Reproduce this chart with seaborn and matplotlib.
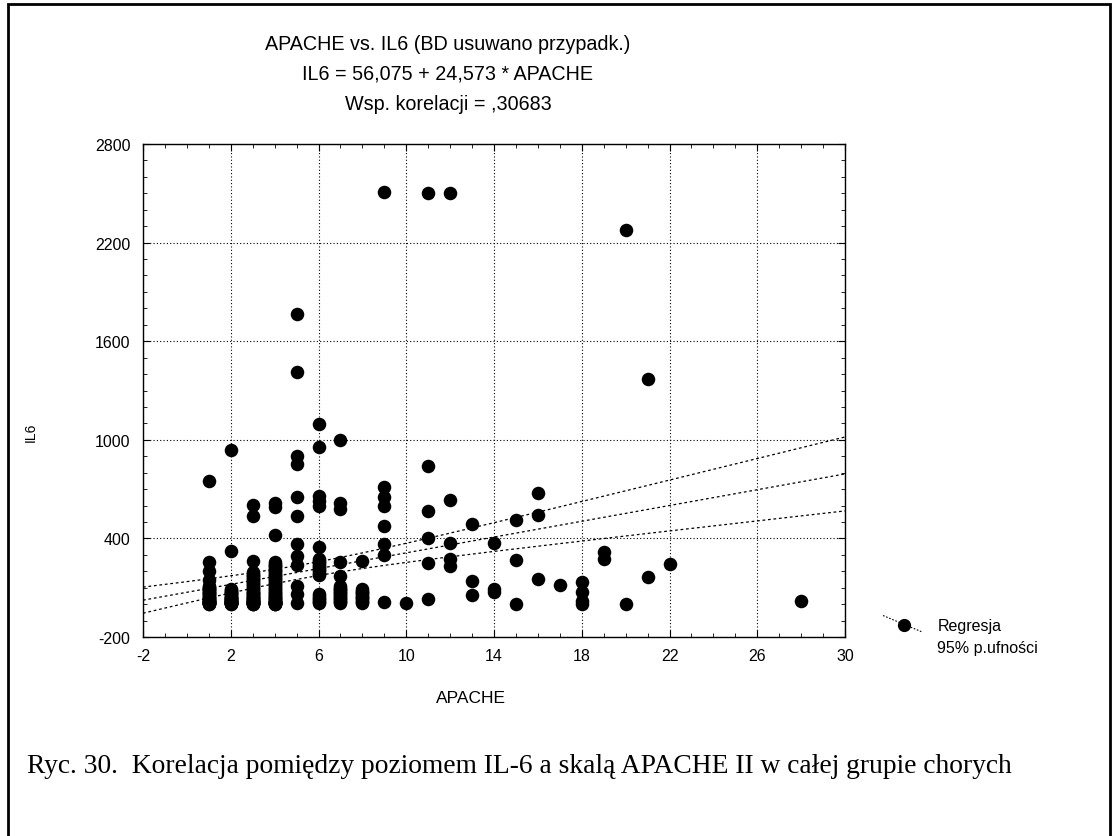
import numpy as np
import matplotlib
matplotlib.use("Agg")
import matplotlib.pyplot as plt
import seaborn as sns
from matplotlib.lines import Line2D
from matplotlib.patches import Rectangle
from matplotlib.legend_handler import HandlerBase

# ---------------- data (dense columns hold many overlapping points) ----------------
apache_levels = [1, 2, 3, 4, 5, 6, 7, 8, 9, 10, 11, 12, 13, 14, 15, 16, 17, 18, 19, 20, 21, 22, 28]
il6_at_1 = [751, 258, 200, 145, 110, 105, 100, 95, 90, 85, 80, 75, 70, 65, 60, 55, 50, 45, 40,
            35, 30, 28, 25, 22, 20, 18, 15, 12, 10, 8, 7, 6, 5, 4, 3, 2]
il6_at_2 = [938, 325, 90, 85, 80, 75, 70, 65, 60, 55, 50, 45, 40, 38, 35, 32, 30, 28, 25, 22,
            20, 18, 15, 12, 10, 9, 8, 7, 6, 5, 4, 3, 2]
il6_at_3 = [605, 538, 265, 195, 185, 180, 170, 165, 155, 150, 140, 135, 125, 120, 110, 105, 95,
            90, 80, 75, 70, 65, 60, 55, 50, 45, 42, 40, 35, 30, 28, 25, 22, 20, 18, 15, 12, 10,
            8, 6, 5, 4, 3, 2, 1]
il6_at_4 = [613, 592, 420, 255, 245, 240, 230, 225, 215, 210, 200, 195, 185, 180, 170, 165, 155,
            150, 140, 135, 125, 120, 110, 105, 95, 90, 80, 75, 65, 60, 55, 50, 45, 40, 35, 30,
            25, 20, 18, 15, 12, 10, 8, 7, 6, 5, 4, 3, 2, 1]
il6_at_5 = [1766, 1411, 903, 852, 650, 538, 365, 290, 240, 110, 60, 5]
il6_at_6 = [1096, 954, 655, 625, 600, 350, 275, 265, 255, 245, 235, 225, 215, 205, 195, 185,
            175, 60, 50, 40, 30, 20, 10, 5]
il6_at_7 = [999, 613, 579, 254, 172, 110, 100, 95, 85, 80, 70, 65, 55, 50, 40, 35, 25, 20, 10, 5]
il6_at_8 = [264, 90, 80, 75, 65, 60, 50, 45, 35, 30, 20, 15, 5]
il6_at_9 = [2507, 714, 650, 599, 477, 365, 298, 14]
il6_at_10 = [4]
il6_at_11 = [2500, 838, 568, 404, 248, 32]
il6_at_12 = [2500, 633, 370, 272, 232]
il6_at_13 = [487, 142, 54]
il6_at_14 = [369, 91, 72]
il6_at_15 = [510, 268, 3]
il6_at_16 = [675, 542, 150]
il6_at_17 = [117]
il6_at_18 = [132, 72, 20, 0]
il6_at_19 = [318, 274]
il6_at_20 = [2277, 0]
il6_at_21 = [1372, 168]
il6_at_22 = [245]
il6_at_28 = [19]

il6_columns = [il6_at_1, il6_at_2, il6_at_3, il6_at_4, il6_at_5, il6_at_6, il6_at_7, il6_at_8,
               il6_at_9, il6_at_10, il6_at_11, il6_at_12, il6_at_13, il6_at_14, il6_at_15,
               il6_at_16, il6_at_17, il6_at_18, il6_at_19, il6_at_20, il6_at_21, il6_at_22,
               il6_at_28]

title_lines = ["APACHE vs. IL6 (BD usuwano przypadk.)",
               "IL6 = 56,075 + 24,573 * APACHE",
               "Wsp. korelacji = ,30683"]
x_ticks = [-2, 2, 6, 10, 14, 18, 22, 26, 30]
y_ticks = [-200, 400, 1000, 1600, 2200, 2800]
caption = "Ryc. 30.  Korelacja pomiędzy poziomem IL-6 a skalą APACHE II w całej grupie chorych"
legend_label = "Regresja\n95% p.ufności"

# ---------------- style ----------------
sns.set_style("ticks")
plt.rcParams["font.family"] = ["Liberation Sans", "DejaVu Sans"]
plt.rcParams["axes.unicode_minus"] = False
plt.rcParams["text.color"] = "black"
plt.rcParams["axes.labelcolor"] = "black"

W, H = 1116, 837
fig = plt.figure(figsize=(W / 100, H / 100), dpi=100)
ax = fig.add_axes([143 / W, 1 - 638 / H, (845 - 143) / W, (638 - 145) / H])

x = np.concatenate([[lv] * len(col) for lv, col in zip(apache_levels, il6_columns)]).astype(float)
y = np.concatenate(il6_columns).astype(float)

sns.scatterplot(x=x, y=y, ax=ax, color="black", s=95, edgecolor="black",
                linewidth=0, zorder=4, legend=False)

# regression line and 95% confidence band computed from the data
n = len(x)
b, a = np.polyfit(x, y, 1)
xbar = x.mean()
sxx = ((x - xbar) ** 2).sum()
resid = y - (a + b * x)
s = np.sqrt((resid ** 2).sum() / (n - 2))
t975 = 1.969
xs = np.linspace(-2, 30, 200)
yhat = a + b * xs
hw = t975 * s * np.sqrt(1 / n + (xs - xbar) ** 2 / sxx)
dash = (0, (2.2, 2.2))
for yy in (yhat, yhat + hw, yhat - hw):
    ax.plot(xs, yy, color="black", lw=0.9, ls=dash, zorder=3)

ax.set_xlim(-2, 30)
ax.set_ylim(-200, 2800)
ax.set_xticks(x_ticks)
ax.set_yticks(y_ticks)
ax.set_xticks(np.arange(-2, 31, 1), minor=True)
ax.set_yticks(np.arange(-200, 2801, 100), minor=True)
ax.tick_params(which="both", direction="in", top=True, right=True, colors="black",
               labelsize=11.5)
ax.tick_params(which="major", length=5, width=0.8)
ax.tick_params(which="minor", length=3, width=0.6)
ax.tick_params(axis="y", pad=9)
ax.tick_params(axis="x", pad=8)
ax.grid(True, which="major", ls=(0, (1, 2)), color="black", lw=0.8)
ax.set_axisbelow(True)
for sp in ax.spines.values():
    sp.set_color("black")
    sp.set_linewidth(1.0)

ax.set_xlabel("APACHE", fontsize=12.5)
ax.xaxis.set_label_coords((471 - 143) / (845 - 143), (638 - 691) / (638 - 145))
ax.set_ylabel("")
fig.text(31 / W, 1 - 432 / H, "IL6", rotation=90, fontsize=10, ha="center", va="center")

for txt, yp in zip(title_lines, [45, 74, 104]):
    fig.text(448 / W, 1 - yp / H, txt, ha="center", va="center", fontsize=14.2)


class SlantHandler(HandlerBase):
    def create_artists(self, legend, orig_handle, xdescent, ydescent, width, height,
                       fontsize, trans):
        up = 0.78 * fontsize
        x0, x1 = -xdescent, -xdescent + width
        yc = height / 2 - ydescent + up
        drop = 0.42 * width
        ln = Line2D([x0, x1], [yc + drop * 0.56, yc - drop * 0.44],
                    color="black", lw=0.8, ls=(0, (1.5, 1.5)), transform=trans)
        mk = Line2D([x0 + 0.56 * width], [yc], marker="o",
                    ms=8.5, color="black", ls="none", transform=trans)
        return [ln, mk]


handle = Line2D([], [], color="black", marker="o")
leg = fig.legend([handle], [legend_label], handler_map={Line2D: SlantHandler()},
                 loc="upper left", bbox_to_anchor=(883 / W, 1 - 619 / H), frameon=False,
                 fontsize=11.5, handlelength=2.4, handletextpad=1.0, borderpad=0,
                 borderaxespad=0, labelspacing=0.2)
for t in leg.get_texts():
    t.set_linespacing(1.6)

fig.text(27 / W, 1 - 767 / H, caption, ha="left", va="center",
         fontfamily="Liberation Serif", fontsize=19.8)

fig.patches.append(Rectangle((8 / W, -0.05), (1110 - 8) / W, 1.05 - 5 / H,
                             transform=fig.transFigure, fill=False, lw=2,
                             ec="black"))

fig.savefig("out.png", dpi=100)
